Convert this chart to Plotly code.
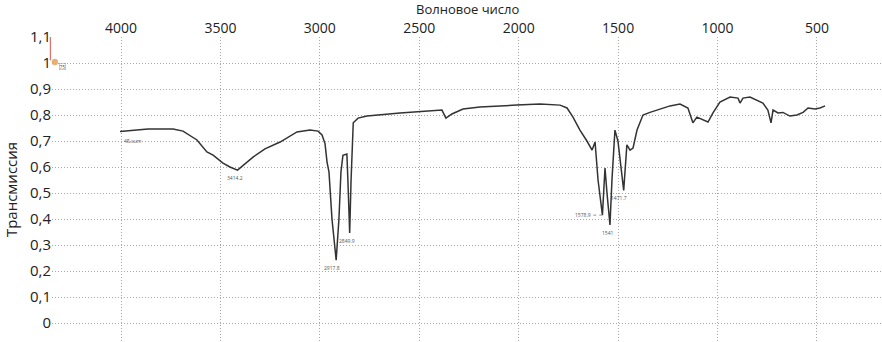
import plotly.graph_objects as go

# Spectrum data (wavenumber, transmission)
wavenumber = [4005, 3864, 3738, 3688, 3618, 3568, 3537, 3487, 3452, 3414, 3336, 3276, 3200,
              3115, 3050, 3009, 2989, 2974, 2964, 2959, 2954, 2939, 2918, 2904, 2894, 2884,
              2864, 2859, 2850, 2843, 2838, 2832, 2808, 2763, 2597, 2431, 2386, 2366, 2336,
              2280, 2195, 2009, 1893, 1792, 1757, 1727, 1692, 1657, 1631, 1616, 1601, 1579,
              1566, 1556, 1541, 1531, 1516, 1501, 1472, 1456, 1440, 1425, 1405, 1375, 1340,
              1239, 1189, 1149, 1124, 1104, 1048, 1023, 988, 937, 897, 887, 872, 837, 772,
              747, 731, 721, 696, 671, 636, 601, 570, 545, 510, 485, 459]
transmission = [0.737, 0.746, 0.746, 0.738, 0.704, 0.658, 0.646, 0.615, 0.600, 0.588, 0.638,
                0.670, 0.696, 0.735, 0.742, 0.738, 0.723, 0.690, 0.620, 0.596, 0.580, 0.400,
                0.242, 0.400, 0.580, 0.645, 0.650, 0.550, 0.346, 0.550, 0.700, 0.770, 0.788,
                0.796, 0.808, 0.815, 0.819, 0.788, 0.804, 0.823, 0.831, 0.838, 0.842, 0.838,
                0.827, 0.792, 0.742, 0.700, 0.665, 0.696, 0.550, 0.415, 0.596, 0.500, 0.377,
                0.550, 0.742, 0.700, 0.510, 0.685, 0.665, 0.673, 0.742, 0.800, 0.810, 0.835,
                0.842, 0.827, 0.770, 0.792, 0.773, 0.808, 0.850, 0.869, 0.865, 0.846, 0.865,
                0.869, 0.846, 0.819, 0.770, 0.819, 0.808, 0.810, 0.796, 0.800, 0.810, 0.827,
                0.823, 0.827, 0.835]

# Peak labels
peak_wn = [3414.2, 2917.8, 2849.9, 1578.9, 1541, 1471.7]
peak_t = [0.588, 0.242, 0.346, 0.415, 0.377, 0.510]
peak_text = ["3414.2", "2917.8", "2849.9", "1578.9", "1541", "1471.7"]

x_ticks = [4000, 3500, 3000, 2500, 2000, 1500, 1000, 500]
y_ticks = [0, 0.1, 0.2, 0.3, 0.4, 0.5, 0.6, 0.7, 0.8, 0.9, 1.0, 1.1]
y_ticktext = ["0", "0,1", "0,2", "0,3", "0,4", "0,5", "0,6", "0,7", "0,8", "0,9", "1", "1,1"]

fig = go.Figure()
fig.add_trace(go.Scatter(x=wavenumber, y=transmission, mode="lines",
                         line=dict(color="#333333", width=1.5), showlegend=False,
                         hoverinfo="x+y"))

label_font = dict(family="Open Sans, sans-serif", size=5, color="#555555")
offsets = {"3414.2": (-2, 8), "2917.8": (-4, 8), "2849.9": (-3, 8),
           "1578.9": (-19, 0), "1541": (-2, 8), "1471.7": (-5, 8)}
for wn, t, txt in zip(peak_wn, peak_t, peak_text):
    dx, dy = offsets[txt]
    fig.add_annotation(x=wn, y=t, text=txt, showarrow=False, font=label_font,
                       xshift=dx, yshift=-dy)
# start label
fig.add_annotation(x=wavenumber[0], y=transmission[0], text="4ß.sum", showarrow=False,
                   font=label_font, xanchor="left", xshift=2, yshift=-10)
# dotted leader for 1578.9
fig.add_shape(type="line", x0=1625, x1=1582, y0=0.415, y1=0.415,
              line=dict(color="#777777", width=0.8, dash="dot"))

# cursor decoration at top-left
fig.add_shape(type="line", xref="paper", yref="y", x0=-0.002, x1=-0.002, y0=1.1, y1=1.01,
              line=dict(color="#d9534f", width=1))
fig.add_shape(type="circle", xref="paper", yref="y", x0=0.0, x1=0.007, y0=0.992, y1=1.015,
              line=dict(color="#e8a060", width=0.5), fillcolor="#e8b070")
fig.add_annotation(xref="paper", yref="y", x=0.008, y=0.985, text="75", showarrow=False,
                   font=dict(size=5, color="#555"), bordercolor="#999", borderwidth=0.5,
                   xanchor="left", borderpad=0)

# x-axis title (placed above the top tick labels)
fig.add_annotation(xref="paper", yref="paper", x=0.5, y=1, yanchor="bottom", yshift=18,
                   text="Волновое число", showarrow=False, borderpad=0,
                   font=dict(family="Open Sans, sans-serif", size=13, color="#222222"))

grid_dash = "1px,2px"
fig.update_layout(
    width=882, height=342,
    margin=dict(l=52, r=0, t=37, b=0),
    paper_bgcolor="white", plot_bgcolor="white",
    font=dict(family="Open Sans, sans-serif", color="#222222"),
    xaxis=dict(side="top", range=[4347, 173], tickvals=x_ticks,
               ticktext=[str(v) for v in x_ticks], automargin=False,
               tickfont=dict(size=14), showgrid=True, gridcolor="#a8a8a8",
               griddash=grid_dash, gridwidth=1, zeroline=False, showline=False, ticks=""),
    yaxis=dict(range=[-0.073, 1.1], tickvals=y_ticks, ticktext=y_ticktext, automargin=False,
               tickfont=dict(size=15), showgrid=True, gridcolor="#a8a8a8",
               griddash=grid_dash, gridwidth=1, zeroline=False, showline=False, ticks="",
               title=dict(text="Трансмиссия", font=dict(size=15), standoff=8)),
)

fig.write_html("out.html", config={"displayModeBar": False},
               post_script="document.body.style.margin='0';document.body.style.overflow='hidden';")
